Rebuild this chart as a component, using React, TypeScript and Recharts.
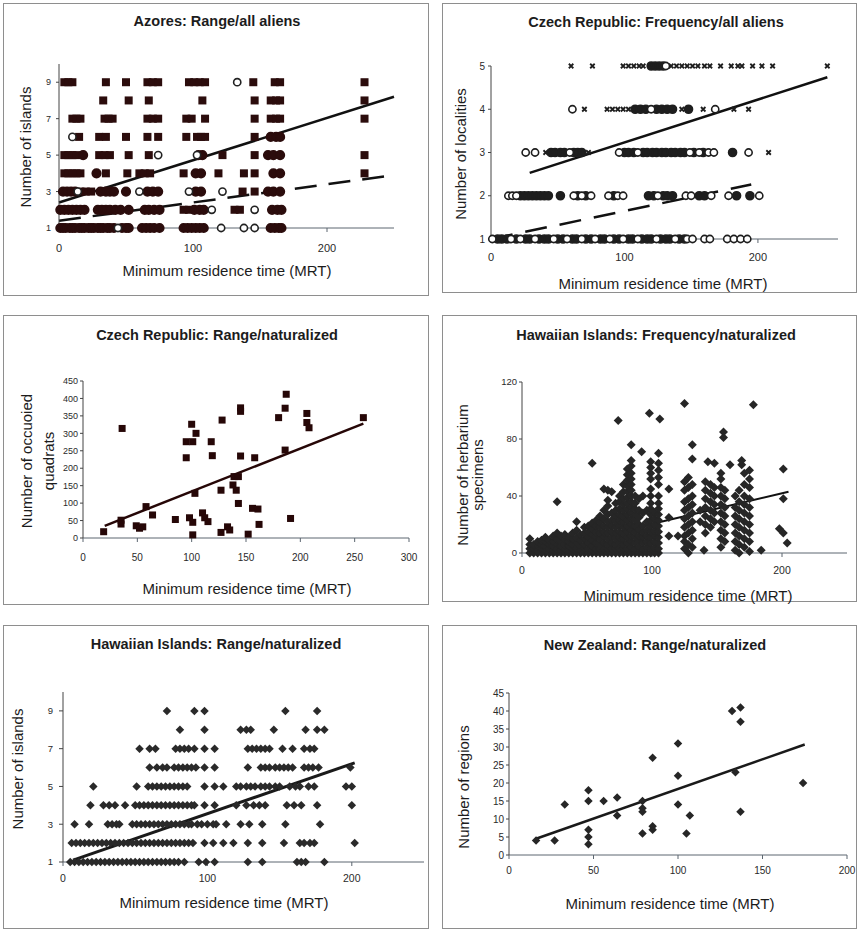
import React from "react";
import { ScatterChart, Scatter, XAxis, YAxis, ReferenceLine } from "recharts";

const FONT = '"Liberation Sans", Arial, sans-serif';

type Pt = { x: number; y: number };
type Row = [number, number[]];

// rows: [y, xs]   cols: [x, ys]
const fromRows = (r: Row[]): Pt[] => r.flatMap(([y, xs]) => xs.map((x) => ({ x, y })));
const fromCols = (c: Row[]): Pt[] => c.flatMap(([x, ys]) => ys.map((y) => ({ x, y })));
const fromPairs = (p: [number, number][]): Pt[] => p.map(([x, y]) => ({ x, y }));

// ---------- Azores: Range/all aliens ----------
const azoresSquareRows: Row[] = [
  [9, [4, 7, 10, 35, 50, 66, 70, 74, 97, 101, 105, 109, 145, 161, 165, 228]],
  [8, [33, 52, 67, 107, 146, 158, 162, 165, 228]],
  [7, [10, 13, 16, 34, 37, 40, 66, 70, 74, 95, 99, 109, 146, 158, 162, 165, 228]],
  [6, [15, 30, 35, 50, 66, 74, 95, 103, 106, 109, 146]],
  [5, [4, 7, 10, 13, 30, 34, 38, 52, 67, 122, 146, 228]],
  [4, [4, 7, 10, 13, 16, 35, 51, 60, 64, 68, 93, 119, 138, 146, 228]],
  [3, [16, 20, 24, 137, 146]],
  [2, [93, 97, 131, 135]],
];
const azoresFilledRows: Row[] = [
  [6, [158, 162, 165]],
  [5, [18, 104, 107, 156, 160, 165]],
  [4, [28, 102, 106, 160, 165]],
  [3, [3, 6, 9, 12, 31, 35, 38, 41, 50, 66, 70, 74, 102, 106, 156, 160, 165]],
  [2, [1, 4, 7, 10, 13, 16, 19, 29, 32, 35, 38, 42, 46, 52, 64, 67, 71, 75, 101, 105, 108, 159, 163, 166]],
  [1, [1, 3, 5, 8, 10, 12, 15, 17, 19, 22, 24, 26, 29, 31, 33, 36, 38, 41, 47, 50, 52, 62, 65, 68, 71, 75, 93, 96, 99, 102, 105, 108, 158, 161, 164, 166]],
];
const azoresOpenRows: Row[] = [
  [9, [133]],
  [6, [10]],
  [5, [74, 103]],
  [3, [14, 60, 97, 122]],
  [2, [114, 146]],
  [1, [44, 121, 138, 146]],
];
const azoresTrend = [{ x: 0, y: 2.4 }, { x: 250, y: 8.2 }];
const azoresTrendDash = [{ x: 0, y: 1.4 }, { x: 250, y: 3.9 }];

// ---------- Czech Republic: Frequency/all aliens ----------
const czFreqCrossRows: Row[] = [
  [5, [60, 76, 99, 103, 107, 111, 114, 135, 139, 143, 147, 151, 155, 160, 164, 172, 180, 185, 188, 196, 203, 211, 252]],
  [4, [70, 87, 91, 95, 99, 103, 143, 159, 182, 193]],
  [3, [41, 73, 208]],
];
const czFreqFilledRows: Row[] = [
  [5, [120, 123, 126, 129]],
  [4, [108, 112, 116, 124, 128, 132, 136, 148]],
  [3, [45, 48, 52, 55, 62, 65, 68, 100, 103, 107, 114, 117, 121, 124, 128, 131, 135, 138, 142, 145, 152, 159, 181]],
  [2, [22, 25, 28, 31, 34, 37, 40, 43, 52, 65, 71, 92, 118, 122, 129, 132, 136, 156, 160, 184, 194]],
  [1, [5, 8, 12, 19, 26, 29, 36, 40, 43, 50, 54, 61, 64, 71, 75, 82, 85, 92, 96, 103, 106, 113, 117, 120, 127, 131, 134, 141, 145]],
];
const czFreqOpenRows: Row[] = [
  [5, [131]],
  [4, [61, 120, 168]],
  [3, [26, 33, 59, 96, 110, 149, 156, 163, 167, 193]],
  [2, [13, 16, 19, 62, 68, 75, 88, 95, 99, 125, 146, 150, 165, 178, 201]],
  [1, [1, 15, 22, 33, 47, 57, 68, 78, 89, 99, 110, 124, 138, 147, 151, 160, 164, 177, 182, 187, 192]],
];
const czFreqTrend = [{ x: 29, y: 2.53 }, { x: 252, y: 4.74 }];
const czFreqTrendDash = [{ x: 0, y: 1.0 }, { x: 195, y: 2.26 }];

// ---------- Czech Republic: Range/naturalized ----------
const czRangePts: [number, number][] = [
  [19, 18], [36, 314], [35, 51], [35, 40], [49, 35], [52, 28], [55, 32], [58, 90], [64, 66], [85, 53],
  [95, 276], [101, 276], [100, 326], [104, 300], [95, 230], [98, 58], [101, 45], [101, 9], [103, 128],
  [110, 72], [112, 58], [115, 47], [118, 276], [119, 236], [128, 338], [127, 137], [127, 16], [133, 32],
  [135, 23], [138, 152], [141, 137], [139, 176], [143, 176], [143, 99], [145, 373], [145, 363], [145, 235],
  [152, 11], [156, 85], [161, 83], [158, 230], [162, 39], [180, 345], [187, 412], [186, 372], [186, 252],
  [191, 56], [206, 357], [206, 331], [208, 316], [258, 345],
];
const czRangeTrend = [{ x: 20, y: 35 }, { x: 258, y: 328 }];

// ---------- Hawaiian Islands: Frequency/naturalized ----------
const hawFreqCols: Row[] = [
  [6, [0, 3, 6, 10]], [9, [0, 3, 6]], [12, [0, 2, 5, 8]], [15, [0, 3, 6, 9]], [18, [0, 2, 5, 8, 11]],
  [21, [0, 3, 6, 9]], [24, [0, 2, 5, 8, 12]], [27, [0, 3, 6, 10, 14, 36]], [30, [0, 2, 5, 8, 12]],
  [33, [0, 3, 6, 9, 13]], [36, [0, 2, 5, 8, 11]], [39, [0, 3, 6, 10, 14]], [42, [0, 3, 7, 11, 16, 22]],
  [45, [0, 2, 5, 9, 13]], [48, [0, 3, 6, 10, 14, 18]], [51, [0, 3, 7, 11, 15, 19]],
  [54, [0, 2, 5, 9, 13, 17, 21, 63]], [57, [0, 3, 7, 11, 15, 19, 23]], [60, [0, 3, 6, 10, 14, 18, 22, 26]],
  [63, [0, 3, 7, 11, 15, 19, 24, 30, 45]], [66, [0, 3, 6, 10, 14, 18, 22, 27, 33, 37, 44]],
  [69, [0, 3, 7, 11, 15, 19, 23, 28, 43]], [72, [0, 3, 6, 10, 14, 18, 22, 26, 30, 35]], [74, [93]],
  [75, [0, 3, 7, 11, 15, 19, 23, 27, 31, 36, 40]], [78, [0, 3, 6, 10, 14, 18, 22, 26, 30, 34, 38, 43, 48]],
  [81, [0, 3, 7, 11, 15, 19, 23, 27, 31, 35, 39, 43, 47, 51, 55, 59]],
  [84, [0, 4, 8, 12, 16, 20, 24, 28, 32, 36, 40, 44, 48, 52, 56, 61, 65, 76]],
  [87, [0, 3, 7, 11, 15, 19, 23, 27, 31, 35, 40]], [90, [0, 4, 8, 12, 16, 20, 25, 30, 38]], [92, [71]],
  [93, [0, 3, 7, 11, 15, 19, 28, 40]], [96, [0, 4, 8, 12, 16, 22, 30]], [98, [98]],
  [99, [0, 3, 7, 11, 15, 19, 23, 27, 31, 35, 40, 45, 52, 56, 60, 64]], [102, [0, 4, 8, 12, 16, 20, 24, 28]],
  [105, [0, 3, 7, 11, 15, 19, 23, 27, 31, 35, 40, 48, 53, 58, 63, 70]], [106, [94]],
  [113, [12, 25, 45]], [120, [12]], [125, [3, 8, 12, 18, 24, 30, 36, 44, 50, 105]],
  [128, [0, 6, 14, 20, 26, 32, 38, 46, 53]], [131, [4, 10, 16, 22, 28, 34, 40, 48, 66, 76]],
  [137, [22, 30]], [140, [2]], [141, [14, 20, 26, 32, 38, 44, 50]], [143, [64]],
  [145, [18, 24, 30, 36, 42, 48]], [148, [22, 28, 34, 40, 46, 63]],
  [153, [4, 10, 16, 22, 28, 34, 40, 46, 52, 56]], [155, [81, 85]], [156, [8, 14, 20, 26, 32, 38, 44]],
  [160, [62]], [164, [2, 8, 14, 20, 26, 32, 40]], [167, [0, 6, 12, 18, 24, 30, 36, 44]], [169, [62, 65]],
  [171, [4, 10, 16, 22, 28, 34, 40, 48, 56]], [175, [1, 8, 14, 20, 26, 32, 38, 46, 52, 58]],
  [178, [104]], [184, [2]], [198, [17]], [201, [14, 38, 59]], [204, [7]],
];
const hawFreqTrend = [{ x: 5, y: 0 }, { x: 205, y: 43 }];

// ---------- Hawaiian Islands: Range/naturalized ----------
const hawRangeRows: Row[] = [
  [9, [72, 91, 98, 154, 176]],
  [8, [81, 98, 123, 127, 130, 146, 168, 176, 181]],
  [7, [53, 60, 64, 78, 81, 84, 87, 91, 98, 105, 128, 131, 134, 137, 140, 143, 152, 159, 167, 171, 174]],
  [6, [60, 65, 69, 72, 77, 80, 83, 86, 89, 92, 98, 105, 128, 137, 140, 143, 147, 150, 153, 156, 159, 167, 170, 173, 177, 199]],
  [5, [21, 51, 59, 62, 65, 68, 71, 74, 77, 80, 83, 86, 98, 105, 111, 120, 123, 127, 130, 133, 137, 140, 143, 147, 150, 157, 161, 164, 170, 174, 196, 200]],
  [4, [19, 28, 32, 36, 43, 50, 53, 56, 59, 62, 65, 68, 71, 74, 77, 80, 83, 86, 89, 91, 98, 105, 120, 127, 132, 136, 140, 155, 160, 165, 176, 200]],
  [3, [8, 18, 31, 34, 37, 39, 48, 51, 54, 57, 60, 63, 66, 69, 72, 75, 78, 81, 84, 87, 89, 93, 96, 100, 104, 106, 113, 123, 129, 138, 154, 178]],
  [2, [6, 9, 12, 15, 18, 21, 24, 27, 30, 33, 36, 39, 42, 45, 48, 51, 54, 57, 60, 63, 66, 69, 72, 75, 78, 81, 84, 87, 90, 98, 104, 111, 118, 128, 138, 153, 164, 167, 171, 174, 202]],
  [1, [5, 8, 11, 14, 17, 20, 23, 26, 29, 32, 35, 38, 41, 44, 47, 50, 53, 56, 59, 62, 65, 68, 71, 74, 77, 80, 84, 94, 99, 105, 128, 138, 162, 165, 168, 181]],
];
const hawRangeTrend = [{ x: 7, y: 1.1 }, { x: 202, y: 6.25 }];

// ---------- New Zealand: Range/naturalized ----------
const nzPts: [number, number][] = [
  [16, 4], [27, 4], [33, 14], [47, 18], [47, 15], [47, 7], [47, 5], [47, 3], [56, 15], [64, 16], [64, 11],
  [79, 15], [79, 13], [79, 12], [79, 6], [85, 27], [85, 8], [85, 7], [100, 31], [100, 22], [100, 14],
  [105, 6], [107, 11], [132, 40], [134, 23], [137, 41], [137, 37], [137, 12], [174, 20],
];
const nzTrend = [{ x: 16, y: 4.5 }, { x: 175, y: 30.7 }];

// ---------- marker shapes ----------
const square = (s: number, fill: string) => (p: any) => (
  <rect x={p.cx - s / 2} y={p.cy - s / 2} width={s} height={s} fill={fill} />
);
const dot = (r: number, fill: string, stroke: string) => (p: any) => (
  <circle cx={p.cx} cy={p.cy} r={r} fill={fill} stroke={stroke} strokeWidth={1.6} />
);
const diamond = (s: number, fill: string) => (p: any) => {
  const h = s / 2;
  return (
    <polygon
      points={`${p.cx},${p.cy - h} ${p.cx + h},${p.cy} ${p.cx},${p.cy + h} ${p.cx - h},${p.cy}`}
      fill={fill}
    />
  );
};
const cross = (s: number, stroke: string) => (p: any) => {
  const h = s / 2;
  return (
    <path
      d={`M${p.cx - h},${p.cy - h}L${p.cx + h},${p.cy + h}M${p.cx + h},${p.cy - h}L${p.cx - h},${p.cy + h}`}
      stroke={stroke}
      strokeWidth={1.8}
      fill="none"
    />
  );
};

// ---------- layout ----------
const YW = 30;
const XH = 20;

type AxisSpec = { domain: [number, number]; ticks: number[]; font: number; tickSize: number; gap: number };
type PanelSpec = {
  box: [number, number, number, number];
  plot: [number, number, number, number];
  title: string;
  titleAt: [number, number];
  xLabelAt: [number, number];
  yLines: { text: string; x: number }[];
  yLabelY: number;
  x: AxisSpec;
  y: AxisSpec;
};

const Txt = ({ x, y, text, size, bold, rotate }: { x: number; y: number; text: string; size: number; bold?: boolean; rotate?: boolean }) => (
  <div
    style={{
      position: "absolute",
      left: x,
      top: y,
      transform: `translate(-50%, -50%)${rotate ? " rotate(-90deg)" : ""}`,
      fontSize: size,
      fontWeight: bold ? 700 : 400,
      fontFamily: FONT,
      whiteSpace: "nowrap",
      lineHeight: 1,
      color: "#1c1c1c",
    }}
  >
    {text}
  </div>
);

function Panel({ s, children }: { s: PanelSpec; children: React.ReactNode }) {
  const [bl, bt, br, bb] = s.box;
  const [pl, pt, pr, pb] = s.plot;
  const margin = { left: pl - bl - YW, top: pt - bt, right: br - pr, bottom: bb - pb - XH };
  return (
    <>
      <div
        style={{
          position: "absolute",
          left: bl,
          top: bt,
          width: br - bl,
          height: bb - bt,
          border: "1px solid #8e8e8e",
          boxSizing: "border-box",
        }}
      />
      <div style={{ position: "absolute", left: bl, top: bt }}>
        <ScatterChart width={br - bl} height={bb - bt} margin={margin}>
          <XAxis
            type="number"
            dataKey="x"
            domain={s.x.domain}
            ticks={s.x.ticks}
            interval={0}
            height={XH}
            tickSize={s.x.tickSize}
            tickMargin={s.x.gap}
            tick={{ fontSize: s.x.font, fill: "#2a2a2a", fontFamily: FONT }}
            axisLine={{ stroke: "#5c6670" }}
            tickLine={{ stroke: "#5c6670" }}
          />
          <YAxis
            type="number"
            dataKey="y"
            domain={s.y.domain}
            ticks={s.y.ticks}
            interval={0}
            width={YW}
            tickSize={s.y.tickSize}
            tickMargin={s.y.gap}
            tick={{ fontSize: s.y.font, fill: "#2a2a2a", fontFamily: FONT }}
            axisLine={{ stroke: "#444" }}
            tickLine={{ stroke: "#444" }}
          />
          {children}
        </ScatterChart>
      </div>
      <Txt x={s.titleAt[0]} y={s.titleAt[1]} text={s.title} size={14.5} bold />
      <Txt x={s.xLabelAt[0]} y={s.xLabelAt[1]} text="Minimum residence time (MRT)" size={15} />
      {s.yLines.map((l) => (
        <Txt key={l.text} x={l.x} y={s.yLabelY} text={l.text} size={15} rotate />
      ))}
    </>
  );
}

const azoresSpec: PanelSpec = {
  box: [3, 3, 429, 296],
  plot: [59, 64, 394, 228],
  title: "Azores: Range/all aliens",
  titleAt: [217, 21],
  xLabelAt: [227, 270],
  yLines: [{ text: "Number of islands", x: 25 }],
  yLabelY: 147,
  x: { domain: [0, 250], ticks: [0, 100, 200], font: 11, tickSize: 4, gap: 12 },
  y: { domain: [1, 10], ticks: [1, 3, 5, 7, 9], font: 9, tickSize: 3, gap: 5 },
};
const czFreqSpec: PanelSpec = {
  box: [442, 3, 857, 293],
  plot: [491, 66, 838, 239],
  title: "Czech Republic: Frequency/all aliens",
  titleAt: [656, 22],
  xLabelAt: [663, 283],
  yLines: [{ text: "Number of localities", x: 460 }],
  yLabelY: 154,
  x: { domain: [0, 260], ticks: [0, 100, 200], font: 11, tickSize: 4, gap: 10 },
  y: { domain: [1, 5], ticks: [1, 2, 3, 4, 5], font: 10, tickSize: 3, gap: 3 },
};
const czRangeSpec: PanelSpec = {
  box: [3, 315, 429, 605],
  plot: [83, 381, 409, 538],
  title: "Czech Republic: Range/naturalized",
  titleAt: [217, 335],
  xLabelAt: [247, 588],
  yLines: [
    { text: "Number of occuoied", x: 26 },
    { text: "quadrats", x: 48 },
  ],
  yLabelY: 461,
  x: { domain: [0, 300], ticks: [0, 50, 100, 150, 200, 250, 300], font: 10, tickSize: 4, gap: 12 },
  y: { domain: [0, 450], ticks: [0, 50, 100, 150, 200, 250, 300, 350, 400, 450], font: 9, tickSize: 3, gap: 2 },
};
const hawFreqSpec: PanelSpec = {
  box: [442, 315, 857, 602],
  plot: [522, 382, 847, 553],
  title: "Hawaiian Islands: Frequency/naturalized",
  titleAt: [656, 335],
  xLabelAt: [688, 595],
  yLines: [
    { text: "Number of herbarium", x: 462 },
    { text: "specimens", x: 477 },
  ],
  yLabelY: 475,
  x: { domain: [0, 250], ticks: [0, 100, 200], font: 10.5, tickSize: 4, gap: 10 },
  y: { domain: [0, 120], ticks: [0, 40, 80, 120], font: 9.5, tickSize: 3, gap: 2 },
};
const hawRangeSpec: PanelSpec = {
  box: [3, 625, 429, 929],
  plot: [63, 692, 424, 862],
  title: "Hawaiian Islands: Range/naturalized",
  titleAt: [216, 644],
  xLabelAt: [224, 902],
  yLines: [{ text: "Number of islands", x: 17 }],
  yLabelY: 769,
  x: { domain: [0, 250], ticks: [0, 100, 200], font: 10.5, tickSize: 4, gap: 9 },
  y: { domain: [1, 10], ticks: [1, 3, 5, 7, 9], font: 9.5, tickSize: 4, gap: 6 },
};
const nzSpec: PanelSpec = {
  box: [442, 625, 857, 929],
  plot: [509, 693, 847, 855],
  title: "New Zealand: Range/naturalized",
  titleAt: [655, 645],
  xLabelAt: [670, 903],
  yLines: [{ text: "Number of regions", x: 463 }],
  yLabelY: 787,
  x: { domain: [0, 200], ticks: [0, 50, 100, 150, 200], font: 10, tickSize: 4, gap: 8 },
  y: { domain: [0, 45], ticks: [0, 5, 10, 15, 20, 25, 30, 35, 40, 45], font: 10, tickSize: 3, gap: 2 },
};

const DARK = "#2b0c0c";
const INK = "#1e1e1e";

export default function App() {
  return (
    <div
      style={{
        position: "absolute",
        left: 0,
        top: 0,
        width: 859,
        height: 929,
        overflow: "hidden",
        background: "#fff",
        fontFamily: FONT,
      }}
    >
      <Panel s={azoresSpec}>
        {[
          <Scatter key="sq" data={fromRows(azoresSquareRows)} shape={square(8, DARK)} isAnimationActive={false} />,
          <Scatter key="fc" data={fromRows(azoresFilledRows)} shape={dot(4.3, DARK, DARK)} isAnimationActive={false} />,
          <Scatter key="oc" data={fromRows(azoresOpenRows)} shape={dot(3.6, "#fff", "#222")} isAnimationActive={false} />,
          <ReferenceLine key="t1" segment={azoresTrend} stroke="#111" strokeWidth={2.5} />,
          <ReferenceLine key="t2" segment={azoresTrendDash} stroke="#111" strokeWidth={2.5} strokeDasharray="22 12" />,
        ]}
      </Panel>
      <Panel s={czFreqSpec}>
        {[
          <Scatter key="x" data={fromRows(czFreqCrossRows)} shape={cross(4.5, INK)} isAnimationActive={false} />,
          <Scatter key="fc" data={fromRows(czFreqFilledRows)} shape={dot(4, INK, INK)} isAnimationActive={false} />,
          <Scatter key="oc" data={fromRows(czFreqOpenRows)} shape={dot(3.6, "#fff", INK)} isAnimationActive={false} />,
          <ReferenceLine key="t1" segment={czFreqTrend} stroke="#111" strokeWidth={2.5} />,
          <ReferenceLine key="t2" segment={czFreqTrendDash} stroke="#111" strokeWidth={2.5} strokeDasharray="22 13" />,
        ]}
      </Panel>
      <Panel s={czRangeSpec}>
        {[
          <Scatter key="sq" data={fromPairs(czRangePts)} shape={square(7, "#260707")} isAnimationActive={false} />,
          <ReferenceLine key="t" segment={czRangeTrend} stroke="#260707" strokeWidth={2.5} />,
        ]}
      </Panel>
      <Panel s={hawFreqSpec}>
        {[
          <Scatter key="d" data={fromCols(hawFreqCols)} shape={diamond(9, "#262626")} isAnimationActive={false} />,
          <ReferenceLine key="t" segment={hawFreqTrend} stroke="#111" strokeWidth={2} />,
        ]}
      </Panel>
      <Panel s={hawRangeSpec}>
        {[
          <Scatter key="d" data={fromRows(hawRangeRows)} shape={diamond(8.5, "#2a2a2a")} isAnimationActive={false} />,
          <ReferenceLine key="t" segment={hawRangeTrend} stroke="#1a1a1a" strokeWidth={3} />,
        ]}
      </Panel>
      <Panel s={nzSpec}>
        {[
          <Scatter key="d" data={fromPairs(nzPts)} shape={diamond(8.5, "#262626")} isAnimationActive={false} />,
          <ReferenceLine key="t" segment={nzTrend} stroke="#1a1a1a" strokeWidth={2.5} />,
        ]}
      </Panel>
    </div>
  );
}
